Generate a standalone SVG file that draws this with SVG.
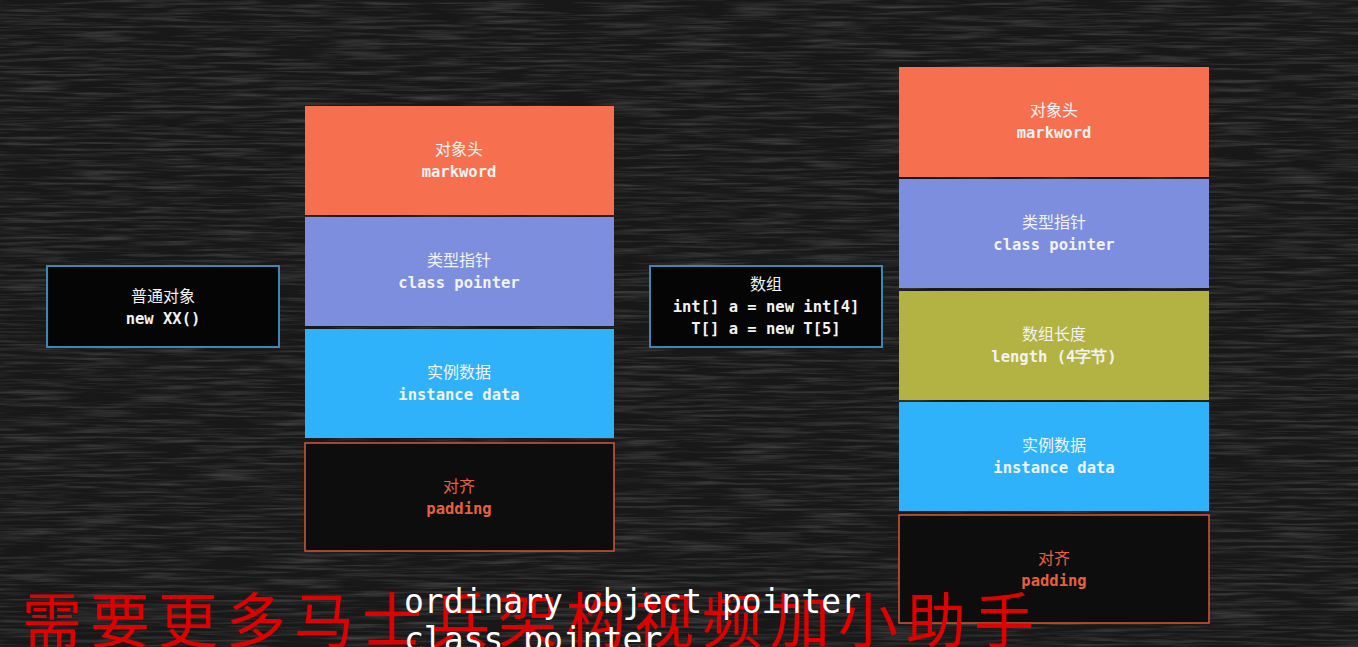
<svg xmlns="http://www.w3.org/2000/svg" width="1358" height="647" viewBox="0 0 1358 647">
<style>
.zh{font-family:"Noto Sans CJK SC","Noto Sans",sans-serif;font-size:16px;fill:#f2f2f2;text-anchor:middle}
.en{font-family:"DejaVu Sans Mono","Liberation Mono",monospace;font-size:15.5px;font-weight:bold;fill:#f2f2f2;text-anchor:middle}
.pad .zh,.pad .en{fill:#e5603f}
.pad rect{fill:#0d0d0d;stroke:#d4573a;stroke-width:1.5}
.src rect{fill:#050505;stroke:#3f86b4;stroke-width:2}
.orange{fill:#f6704f}
.purple{fill:#7c8edd}
.cyan{fill:#30b2fa}
.olive{fill:#b3b343}
</style>
<defs>
<filter id="chalk" x="0" y="0" width="100%" height="100%">
<feTurbulence type="fractalNoise" baseFrequency="0.015 0.35" numOctaves="3" seed="4"/>
<feColorMatrix type="matrix" values="0 0 0 0 0.35 0 0 0 0 0.35 0 0 0 0 0.35 0 0 0 0.6 -0.25"/>
</filter>
</defs>
<rect x="0" y="0" width="1358" height="647" fill="#181818"/>
<rect x="0" y="0" width="1358" height="647" filter="url(#chalk)"/>
<g id="node-normal" class="src">
<rect x="47" y="266" width="232" height="81"/>
<text class="zh" x="163" y="302">普通对象</text>
<text class="en" x="163" y="324">new XX()</text>
</g>
<g id="node-array" class="src">
<rect x="650" y="266" width="232" height="81"/>
<text class="zh" x="766" y="290">数组</text>
<text class="en" x="766" y="312">int[] a = new int[4]</text>
<text class="en" x="766" y="334">T[] a = new T[5]</text>
</g>
<g id="left-markword"><rect class="orange" x="305" y="106" width="309" height="109"/><text class="zh" x="459" y="155">对象头</text><text class="en" x="459" y="177">markword</text></g>
<g id="left-classptr"><rect class="purple" x="305" y="217" width="309" height="109"/><text class="zh" x="459" y="266">类型指针</text><text class="en" x="459" y="288">class pointer</text></g>
<g id="left-instance"><rect class="cyan" x="305" y="329" width="309" height="109"/><text class="zh" x="459" y="378">实例数据</text><text class="en" x="459" y="400">instance data</text></g>
<g id="left-padding" class="pad"><rect x="305" y="443" width="309" height="108"/><text class="zh" x="459" y="492">对齐</text><text class="en" x="459" y="514">padding</text></g>
<g id="right-markword"><rect class="orange" x="899" y="67" width="310" height="110"/><text class="zh" x="1054" y="116">对象头</text><text class="en" x="1054" y="138">markword</text></g>
<g id="right-classptr"><rect class="purple" x="899" y="179" width="310" height="109"/><text class="zh" x="1054" y="228">类型指针</text><text class="en" x="1054" y="250">class pointer</text></g>
<g id="right-length"><rect class="olive" x="899" y="291" width="310" height="109"/><text class="zh" x="1054" y="340">数组长度</text><text class="en" x="1054" y="362">length (4字节)</text></g>
<g id="right-instance"><rect class="cyan" x="899" y="402" width="310" height="109"/><text class="zh" x="1054" y="451">实例数据</text><text class="en" x="1054" y="473">instance data</text></g>
<g id="right-padding" class="pad"><rect x="899" y="515" width="310" height="108"/><text class="zh" x="1054" y="564">对齐</text><text class="en" x="1054" y="586">padding</text></g>
<g id="connectors"></g>
<g id="watermark">
<text x="22" y="643" font-family="Noto Sans CJK SC,sans-serif" font-size="60" letter-spacing="8" fill="#e00000">需要更多马士兵架构视频加小助手</text>
</g>
<g id="caption" font-family="DejaVu Sans Mono,Liberation Mono,monospace" font-size="33" fill="#ffffff">
<text x="404" y="613">ordinary object pointer</text>
<text x="404" y="651">class pointer</text>
</g>
</svg>
